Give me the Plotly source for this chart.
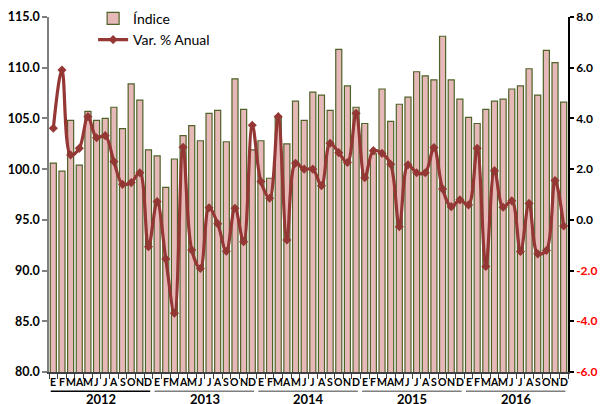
import plotly.graph_objects as go

years = ["2012", "2013", "2014", "2015", "2016"]
months = ["E", "F", "M", "A", "M", "J", "J", "A", "S", "O", "N", "D"]

indice = [
    100.6, 99.8, 104.8, 100.4, 105.7, 104.8, 105.0, 106.1, 104.0, 108.4, 106.8, 101.9,
    101.3, 98.2, 101.0, 103.3, 104.3, 102.8, 105.5, 105.8, 102.7, 108.9, 105.9, 101.9,
    102.8, 99.1, 105.2, 102.5, 106.7, 104.8, 107.6, 107.3, 105.8, 111.8, 108.2, 106.1,
    104.5, 101.5, 107.9, 104.7, 106.4, 107.1, 109.6, 109.2, 108.8, 113.1, 108.8, 106.9,
    105.1, 104.5, 105.9, 106.7, 106.9, 107.9, 108.2, 109.9, 107.3, 111.7, 110.5, 106.6,
]
var_anual = [
    3.61, 5.91, 2.56, 2.82, 4.07, 3.24, 3.32, 2.30, 1.40, 1.47, 1.86, -1.06,
    0.72, -1.54, -3.68, 2.86, -1.19, -1.92, 0.48, -0.15, -1.24, 0.46, -0.86, 3.73,
    1.51, 0.85, 4.07, -0.79, 2.23, 2.00, 2.00, 1.35, 3.02, 2.65, 2.26, 4.20,
    1.66, 2.73, 2.62, 2.19, -0.27, 2.17, 1.86, 1.86, 2.85, 1.22, 0.52, 0.79,
    0.59, 2.82, -1.84, 1.94, 0.50, 0.75, -1.25, 0.65, -1.34, -1.21, 1.55, -0.24,
]
left_ticks = [80, 85, 90, 95, 100, 105, 110, 115]
right_ticks = [-6, -4, -2, 0, 2, 4, 6, 8]

n = len(indice)
x = list(range(n))
month_labels = months * len(years)

FONT = "Lato"

fig = go.Figure()
fig.add_trace(go.Bar(
    x=x, y=indice, name="Índice",
    marker=dict(color="#E6B9B8", line=dict(color="#4F6228", width=1.2)),
    yaxis="y",
))
fig.add_trace(go.Scatter(
    x=x, y=var_anual, name="Var. % Anual", mode="lines+markers",
    line=dict(color="#953735", width=3.2, shape="spline", smoothing=1.0),
    marker=dict(symbol="diamond", size=7, color="#953735"),
    yaxis="y2",
))

right_text = [
    (f"<span style='color:#FF0000'>{v:.1f}</span>" if v < 0 else f"{v:.1f}")
    for v in right_ticks
]

fig.update_layout(
    width=598, height=396,
    margin=dict(l=41, r=38, t=9, b=32, autoexpand=False),
    paper_bgcolor="white", plot_bgcolor="white",
    font=dict(family=FONT, color="black", size=13),
    bargap=0.3,
    showlegend=True,
    legend=dict(
        x=0.085, y=1.04, xanchor="left", yanchor="top",
        font=dict(family=FONT, size=14, color="black"),
        bgcolor="rgba(0,0,0,0)", tracegroupgap=8,
    ),
    xaxis=dict(
        range=[-0.5, n - 0.5],
        tickmode="array", tickvals=x, showticklabels=False,
        ticks="", showline=True, linecolor="#404040", linewidth=1.5,
        minor=dict(tickmode="array", tickvals=[i - 0.5 for i in range(n + 1)],
                   ticks="outside", ticklen=5, tickcolor="#404040", tickwidth=1),
        showgrid=False, zeroline=False,
    ),
    yaxis=dict(
        range=[80, 115], tickmode="array", tickvals=left_ticks,
        ticktext=[f"{v:.1f}" for v in left_ticks],
        ticks="outside", ticklen=5, tickcolor="#7F7F7F", tickwidth=1.5,
        showline=True, linecolor="#7F7F7F", linewidth=1.5,
        tickfont=dict(family=FONT, size=12.5, color="black", weight="bold"),
        showgrid=False, zeroline=False,
    ),
    yaxis2=dict(
        range=[-6, 8], overlaying="y", side="right",
        tickmode="array", tickvals=right_ticks, ticktext=right_text,
        ticks="outside", ticklen=4, tickcolor="black", tickwidth=1.5,
        showline=True, linecolor="black", linewidth=1.5,
        tickfont=dict(family=FONT, size=12, color="black", weight="bold"),
        showgrid=False, zeroline=False,
    ),
)

for i, m in enumerate(month_labels):
    fig.add_annotation(x=i, y=-0.028, xref="x", yref="paper", text=m,
                       showarrow=False, yanchor="middle", xanchor="center",
                       font=dict(family=FONT, size=10.5, color="black", weight="bold"))

for k, yr in enumerate(years):
    start = 12 * k
    fig.add_shape(type="line", xref="x", yref="paper",
                  x0=start - 0.3, x1=start + 11.2, y0=-0.054, y1=-0.054,
                  line=dict(color="black" if k == 0 else "#7F7F7F", width=1.5))
    fig.add_annotation(x=start + 5.5, y=-0.077, xref="x", yref="paper",
                       text=yr, showarrow=False, yanchor="middle",
                       font=dict(family=FONT, size=13, color="black", weight="bold"))

fig.write_html("out.html")
